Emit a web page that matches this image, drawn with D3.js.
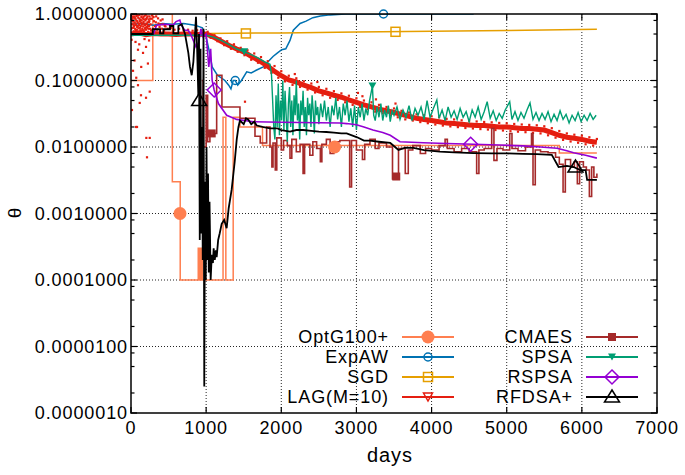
<!DOCTYPE html>
<html><head><meta charset="utf-8">
<script src="https://cdn.jsdelivr.net/npm/d3@7"></script>
<style>
body{margin:0;background:#fff}
svg{display:block}
text{font-family:"Liberation Sans",Arial,sans-serif;fill:#000}
</style>
</head><body>
<svg id="c" width="685" height="475"></svg>
<script>
// ---------- axes ----------
const xTicks = [0,1000,2000,3000,4000,5000,6000,7000];
const yTicks = [1e-6,1e-5,1e-4,1e-3,1e-2,1e-1,1];
const yTickLabels = ["0.0000010","0.0000100","0.0001000","0.0010000","0.0100000","0.1000000","1.0000000"];
const yMinorMult = [2,5,8];
const xLabel = "days";
const yLabel = "θ";

// ---------- series names / colours ----------
const seriesNames = ["OptG100+","ExpAW","SGD","LAG(M=10)","CMAES","SPSA","RSPSA","RFDSA+"];
const seriesColors = ["#ff7f50","#0072b2","#e69f00","#e51e10","#a52a2a","#009e73","#9400d3","#000000"];

// ---------- data: [day, theta] ----------
const optG = [[0,0.1],[290,1.0],[550,0.003],[655,0.0001],[895,0.0003],[910,0.0001],[918,0.0003],[930,0.0001],[940,0.0003],[948,0.0001],[1225,0.028],[1262,0.0001],[1360,0.028],[1450,0.02],[1750,0.0105],[5700,0.0081],[6200,0.0081]];
const optGMarks = [[652,0.001],[2710,0.01]];

const expAW = [[0,0.7],[150,0.72],[300,0.68],[420,0.72],[550,0.7],[700,0.72],[850,0.68],[950,0.62],[1000,0.45],[1050,0.25],[1080,0.16],[1150,0.12],[1250,0.1],[1300,0.085],[1330,0.075],[1360,0.1],[1387,0.1],[1420,0.085],[1470,0.1],[1540,0.135],[1600,0.13],[1673,0.144],[1760,0.16],[1820,0.19],[1890,0.23],[1950,0.26],[2005,0.29],[2060,0.3],[2116,0.4],[2160,0.57],[2250,0.72],[2330,0.78],[2420,0.88],[2520,0.93],[2650,0.97],[2850,1.0],[4560,1.0]];
const expAWMarks = [[1387,0.1],[3360,1.0]];

const sgd = [[0,0.5],[1000,0.51],[2000,0.52],[3000,0.535],[4000,0.55],[5000,0.565],[6200,0.59]];
const sgdMarks = [[1529,0.51],[3520,0.54]];

const lagBand = [[0,0.5],[100,0.52],[200,0.49],[300,0.51],[400,0.5],[500,0.5],[600,0.49],[700,0.5],[800,0.5],[900,0.49],[1000,0.5],[1100,0.45],[1200,0.39],[1300,0.34],[1400,0.3],[1500,0.27],[1600,0.23],[1700,0.2],[1800,0.17],[1900,0.14],[2000,0.118],[2100,0.102],[2200,0.095],[2300,0.085],[2400,0.078],[2500,0.07],[2600,0.065],[2700,0.06],[2800,0.056],[2900,0.051],[3000,0.047],[3100,0.043],[3200,0.04],[3300,0.037],[3400,0.035],[3500,0.033],[3600,0.031],[3700,0.029],[3800,0.027],[3900,0.026],[4000,0.025],[4100,0.024],[4200,0.023],[4300,0.0225],[4400,0.022],[4500,0.0215],[4600,0.021],[4700,0.021],[4800,0.0205],[4900,0.02],[5000,0.02],[5100,0.0195],[5200,0.019],[5300,0.019],[5400,0.0185],[5500,0.018],[5600,0.0165],[5700,0.015],[5800,0.014],[5900,0.0135],[6000,0.013],[6100,0.0122],[6200,0.0118]];
const lagFuzz = [[1020,0.54],[1060,0.44],[1110,0.48],[1150,0.39],[1190,0.43],[1240,0.34],[1280,0.39],[1330,0.3],[1370,0.35],[1420,0.27],[1460,0.31],[1510,0.24],[1550,0.285],[1600,0.205],[1640,0.255],[1690,0.185],[1730,0.225],[1780,0.155],[1820,0.195],[1870,0.13],[1910,0.165],[1960,0.11],[2000,0.138],[2050,0.097],[2100,0.118],[2150,0.086],[2200,0.108],[2250,0.08],[2300,0.097],[2350,0.073],[2400,0.09],[2450,0.066],[2500,0.08],[2550,0.06],[2600,0.075],[2650,0.055],[2700,0.069],[2750,0.051],[2800,0.064],[2850,0.047],[2900,0.059],[2950,0.043],[3000,0.054],[3050,0.04],[3100,0.05],[3150,0.037],[3200,0.047],[3250,0.034],[3300,0.043],[3350,0.032],[3400,0.04],[3450,0.03],[3500,0.038],[3550,0.028],[3600,0.035],[3650,0.026],[3700,0.033],[3750,0.025],[3800,0.031],[3850,0.0237],[3900,0.03],[3950,0.0228],[4000,0.029],[4050,0.0218],[4100,0.028],[4150,0.021],[4200,0.0265],[4250,0.0204],[4300,0.026],[4350,0.0199],[4400,0.0252],[4450,0.0193],[4500,0.0248],[4550,0.019],[4600,0.0242],[4650,0.0186],[4700,0.0238],[4750,0.0183],[4800,0.0235],[4850,0.018],[4900,0.023],[4950,0.0177],[5000,0.0227],[5050,0.0173],[5100,0.0222],[5150,0.017],[5200,0.0218],[5250,0.0167],[5300,0.0215],[5350,0.0163],[5400,0.0212],[5450,0.016],[5500,0.0205],[5550,0.015],[5600,0.0192],[5650,0.0138],[5700,0.0174],[5750,0.0128],[5800,0.016],[5850,0.0121],[5900,0.0153],[5950,0.0116],[6000,0.0148],[6050,0.011],[6100,0.014],[6150,0.0105],[6200,0.0132],
[3020,0.065],[3080,0.058],[3260,0.052],[3520,0.045],[2480,0.095],[2180,0.125]];
const lagDots = [[5,0.95],[12,0.8],[18,0.62],[25,0.9],[30,0.7],[36,0.55],[42,0.98],[48,0.75],[55,0.6],[60,0.85],[66,0.68],[72,0.93],[78,0.58],[84,0.78],[90,0.66],[96,0.88],[102,0.52],[108,0.72],[114,0.97],[120,0.62],[126,0.82],[132,0.56],[138,0.9],[144,0.7],[150,0.6],[156,0.86],[162,0.65],[168,0.76],[174,0.55],[180,0.94],[186,0.68],[192,0.8],[198,0.58],[204,0.72],[210,0.88],[216,0.62],[222,0.75],[228,0.54],[234,0.83],[240,0.66],[246,0.92],[252,0.6],
[10,0.7],[22,0.85],[34,0.62],[46,0.9],[58,0.72],[70,0.8],[82,0.64],[94,0.95],[106,0.68],[118,0.78],[130,0.66],[142,0.8],[154,0.72],[166,0.9],[178,0.7],[190,0.62],[202,0.84],[214,0.7],[226,0.66],[238,0.76],
[3,0.6],[15,0.99],[28,0.77],[40,0.66],[52,0.86],[64,0.57],[76,0.99],[88,0.74],[100,0.61],[112,0.85],[124,0.57],[136,0.74],[148,0.98],[160,0.57],[172,0.83],[184,0.6],[196,0.97],[208,0.64],[220,0.92],[232,0.6],[244,0.78],[256,0.85],[268,0.57],[280,0.95],
[260,0.7],[275,0.85],[290,0.6],[305,0.78],[320,0.66],[335,0.92],[350,0.58],[365,0.72],[380,0.64],[395,0.8],[410,0.6],[425,0.7],[440,0.56],[460,0.65],[490,0.6],[530,0.62],[580,0.58],[640,0.6],[700,0.57],[760,0.58],[820,0.56],[880,0.57],[940,0.56],
[300,0.9],[330,0.75],[360,0.86],[390,0.7],[420,0.83],[450,0.66],
[8,0.41],[93,0.29],[47,0.2],[160,0.26],[200,0.32],[27,0.14],[136,0.16],[225,0.18],[70,0.11],[93,0.085],[133,0.06],[116,0.046],[200,0.055],[249,0.068],[13,0.036],[67,0.02],[80,0.02],[204,0.0137],[249,0.0137],[213,0.007],[60,0.38],[180,0.42],[110,0.35],[240,0.4],[1517,0.048]];

const cmaes = [[940,0.1],[960,0.01],[1000,0.06],[1020,0.012],[1050,0.016],[1140,0.12],[1210,0.04],[1450,0.027],[1650,0.0145],[1720,0.0115],[1805,0.02],[1850,0.01],[1875,0.005],[1890,0.0115],[1920,0.0045],[1940,0.0137],[2000,0.009],[2030,0.0125],[2080,0.0105],[2116,0.0068],[2140,0.013],[2200,0.0085],[2250,0.011],[2290,0.004],[2310,0.011],[2380,0.0075],[2420,0.012],[2470,0.0095],[2520,0.006],[2540,0.011],[2600,0.013],[2650,0.008],[2700,0.012],[2780,0.0125],[2910,0.0025],[2935,0.0125],[3000,0.009],[3080,0.0065],[3110,0.011],[3180,0.013],[3250,0.0095],[3300,0.0115],[3400,0.01],[3480,0.0033],[3560,0.0095],[3650,0.004],[3690,0.009],[3750,0.0105],[3850,0.008],[3920,0.0095],[4000,0.009],[4100,0.0105],[4180,0.013],[4210,0.0095],[4300,0.0085],[4400,0.0095],[4500,0.0085],[4600,0.004],[4630,0.009],[4700,0.0095],[4800,0.019],[4830,0.0063],[4870,0.0095],[4950,0.009],[5040,0.016],[5070,0.0095],[5150,0.0088],[5250,0.01],[5330,0.016],[5350,0.0027],[5380,0.009],[5450,0.0085],[5550,0.0082],[5650,0.007],[5700,0.0055],[5750,0.0021],[5780,0.0065],[5850,0.005],[5900,0.006],[5940,0.0028],[5970,0.006],[6020,0.005],[6060,0.0045],[6100,0.0018],[6130,0.005],[6160,0.0035],[6200,0.004]];
const cmaesMarks = [[1074,0.016],[3530,0.0036]];

const spsa = [[0,0.48],[500,0.48],[1000,0.48],[1100,0.45],[1200,0.4],[1300,0.35],[1400,0.3],[1507,0.27],[1600,0.245],[1700,0.215],[1780,0.19],[1850,0.175],[1870,0.12],
[1885,0.05],[1900,0.02],[1915,0.013],[1930,0.06],[1945,0.02],[1960,0.09],[1975,0.015],[1990,0.05],[2005,0.025],[2020,0.1],[2035,0.018],[2050,0.07],[2065,0.03],[2080,0.012],[2095,0.045],[2110,0.08],[2125,0.02],[2140,0.05],[2155,0.015],[2170,0.06],[2185,0.03],[2200,0.1],[2215,0.025],[2230,0.045],[2245,0.013],[2260,0.05],[2275,0.03],[2290,0.07],[2305,0.02],[2320,0.04],[2335,0.015],[2350,0.055],[2365,0.03],[2380,0.045],[2395,0.02],[2410,0.06],[2425,0.035],[2440,0.016],[2455,0.05],[2470,0.03],[2485,0.04],[2500,0.022],
[2525,0.045],[2550,0.028],[2575,0.05],[2600,0.025],[2625,0.04],[2650,0.02],[2675,0.042],[2700,0.03],[2725,0.055],[2750,0.026],[2775,0.04],[2800,0.02],[2825,0.045],[2850,0.03],[2875,0.05],[2900,0.024],[2925,0.038],[2950,0.02],[2975,0.042],[3000,0.018],[3025,0.04],[3050,0.028],[3075,0.045],[3100,0.025],[3125,0.038],[3150,0.03],[3175,0.05],[3200,0.07],[3213,0.083],[3230,0.03],[3250,0.025],[3275,0.04],[3300,0.028],[3325,0.045],[3350,0.025],[3375,0.036],[3400,0.028],[3425,0.042],[3450,0.024],[3475,0.035],[3500,0.03],
[3540,0.04],[3580,0.026],[3620,0.036],[3660,0.028],[3700,0.042],[3740,0.025],[3780,0.038],[3820,0.03],[3860,0.04],[3900,0.026],[3940,0.05],[3980,0.028],[4020,0.037],[4070,0.051],[4100,0.027],[4140,0.036],[4180,0.025],[4220,0.04],[4260,0.028],[4300,0.035],[4340,0.026],[4380,0.038],[4420,0.028],[4460,0.034],[4500,0.024],[4540,0.036],[4580,0.028],[4620,0.04],[4660,0.026],[4700,0.034],[4740,0.048],[4780,0.027],[4820,0.035],[4860,0.025],[4900,0.032],[4940,0.027],[4980,0.036],[5040,0.048],[5070,0.026],[5110,0.034],[5150,0.025],[5190,0.033],[5230,0.027],[5270,0.036],[5310,0.046],[5350,0.026],[5390,0.033],[5430,0.025],[5470,0.032],[5510,0.026],[5550,0.034],[5590,0.024],[5630,0.031],[5670,0.025],[5710,0.035],[5750,0.026],[5790,0.031],[5830,0.023],[5870,0.03],[5910,0.025],[5950,0.033],[5990,0.024],[6030,0.03],[6070,0.025],[6110,0.032],[6150,0.026],[6190,0.03]];
const spsaMarks = [[1507,0.27],[3213,0.083]];

const rspsa = [[0,0.5],[300,0.5],[340,0.68],[450,0.7],[560,0.68],[600,0.77],[650,0.81],[670,0.68],[715,0.57],[760,0.57],[800,0.48],[865,0.32],[900,0.37],[930,0.6],[960,0.45],[1000,0.5],[1035,0.16],[1060,0.3],[1080,0.1],[1107,0.072],[1163,0.045],[1273,0.03],[1407,0.026],[1630,0.024],[2000,0.0235],[2500,0.0232],[2780,0.023],[2870,0.0225],[3000,0.0216],[3100,0.02],[3220,0.018],[3350,0.0165],[3450,0.015],[3580,0.012],[3890,0.0116],[4200,0.0113],[4560,0.011],[4900,0.0107],[5220,0.0104],[5450,0.01],[5670,0.0096],[5800,0.0088],[5890,0.0082],[6050,0.0075],[6200,0.0068]];
const rspsaMarks = [[1107,0.072],[4520,0.011]];

const rfdsa = [[0,0.5],[290,0.5],[290,0.59],[387,0.59],[387,0.51],[431,0.51],[431,0.59],[519,0.59],[519,0.66],[564,0.66],[564,0.51],[630,0.51],[630,0.66],[675,0.7],[719,0.5],[763,0.26],[785,0.16],[808,0.12],[830,0.19],[865,0.91],[880,0.3],[896,0.06],[905,0.5],[915,0.0004],[925,0.3],[935,0.0005],[945,0.02],[955,0.0002],[965,0.6],[975,0.0000025],[985,0.003],[995,0.0001],[1005,0.01],[1015,0.0002],[1025,0.004],[1035,0.00013],[1045,0.0015],[1060,0.0001],[1075,0.00024],[1090,0.00018],[1100,0.0003],[1115,0.0002],[1130,0.00028],[1140,0.00022],[1160,0.0004],[1180,0.0005],[1207,0.0007],[1240,0.0008],[1273,0.0006],[1300,0.0012],[1340,0.0023],[1380,0.006],[1407,0.013],[1430,0.02],[1450,0.025],[1500,0.022],[1530,0.027],[1560,0.026],[1600,0.022],[1640,0.024],[1673,0.021],[1750,0.02],[1850,0.019],[1950,0.019],[2000,0.018],[2116,0.017],[2200,0.018],[2290,0.018],[2400,0.0175],[2500,0.017],[2600,0.0168],[2700,0.0165],[2800,0.016],[2870,0.016],[3010,0.014],[3100,0.0125],[3180,0.0125],[3300,0.012],[3450,0.0115],[3560,0.009],[3650,0.0098],[3760,0.0097],[3900,0.009],[4110,0.0085],[4300,0.0083],[4560,0.0081],[4800,0.008],[5000,0.008],[5220,0.0079],[5400,0.0078],[5600,0.0076],[5690,0.005],[5800,0.0052],[5890,0.005],[5980,0.0045],[6050,0.0045],[6070,0.0032],[6200,0.0032]];
const rfdsaMarks = [[907,0.05],[5915,0.005]];

// ---------- drawing ----------
const svg = d3.select("#c");
const L = 131, R = 657, T = 14, B = 413;
const x = d3.scaleLinear().domain([0,7000]).range([L,R]);
const y = d3.scaleLog().domain([1e-6,1]).range([B,T]);

svg.append("defs").append("clipPath").attr("id","clip")
  .append("rect").attr("x",L).attr("y",T).attr("width",R-L).attr("height",B-T);

// grid
const grid = svg.append("g");
xTicks.slice(1,-1).forEach(t=>grid.append("line").attr("x1",x(t)).attr("x2",x(t)).attr("y1",T).attr("y2",B)
  .attr("stroke","#000").attr("stroke-width",1).attr("stroke-dasharray","1,2").attr("opacity",0.85));
yTicks.slice(1,-1).forEach(t=>grid.append("line").attr("x1",L).attr("x2",R).attr("y1",y(t)).attr("y2",y(t))
  .attr("stroke","#000").attr("stroke-width",1).attr("stroke-dasharray","1,2").attr("opacity",0.85));

const plot = svg.append("g").attr("clip-path","url(#clip)");
const line = d3.line().x(d=>x(d[0])).y(d=>y(d[1]));
const stepLine = d3.line().x(d=>x(d[0])).y(d=>y(d[1])).curve(d3.curveStepAfter);

function symbol(g, type, cx, cy, color){
  const sw = 1.5;
  if(type==="fcircle") g.append("circle").attr("cx",cx).attr("cy",cy).attr("r",6.5).attr("fill",color);
  else if(type==="ocircle") g.append("circle").attr("cx",cx).attr("cy",cy).attr("r",4).attr("fill","none").attr("stroke",color).attr("stroke-width",sw);
  else if(type==="osquare") g.append("rect").attr("x",cx-4.5).attr("y",cy-4.5).attr("width",9).attr("height",9).attr("fill","none").attr("stroke",color).attr("stroke-width",sw);
  else if(type==="fsquare") g.append("rect").attr("x",cx-4).attr("y",cy-4).attr("width",8).attr("height",8).attr("fill",color);
  else if(type==="otridown") g.append("path").attr("d",`M${cx-4.5},${cy-4}L${cx+4.5},${cy-4}L${cx},${cy+4}Z`).attr("fill","none").attr("stroke",color).attr("stroke-width",sw);
  else if(type==="ftridown") g.append("path").attr("d",`M${cx-4},${cy-3.5}L${cx+4},${cy-3.5}L${cx},${cy+3.5}Z`).attr("fill",color);
  else if(type==="odiamond") g.append("path").attr("d",`M${cx},${cy-7}L${cx+7},${cy}L${cx},${cy+7}L${cx-7},${cy}Z`).attr("fill","none").attr("stroke",color).attr("stroke-width",sw);
  else if(type==="otriup") g.append("path").attr("d",`M${cx},${cy-7}L${cx+7.5},${cy+5}L${cx-7.5},${cy+5}Z`).attr("fill","none").attr("stroke",color).attr("stroke-width",sw);
}
const symTypes = ["fcircle","ocircle","osquare","otridown","fsquare","ftridown","odiamond","otriup"];

// OptG100+
plot.append("path").datum(optG).attr("d",stepLine).attr("fill","none").attr("stroke",seriesColors[0]).attr("stroke-width",1.5);
// ExpAW
plot.append("path").datum(expAW).attr("d",line).attr("fill","none").attr("stroke",seriesColors[1]).attr("stroke-width",1.5);
// SGD
plot.append("path").datum(sgd).attr("d",line).attr("fill","none").attr("stroke",seriesColors[2]).attr("stroke-width",1.5);
// LAG
plot.append("path").datum(lagBand).attr("d",line).attr("fill","none").attr("stroke",seriesColors[3]).attr("stroke-width",5);
lagFuzz.concat(lagDots).forEach(d=>plot.append("rect").attr("x",x(d[0])-1.1).attr("y",y(d[1])-1.1).attr("width",2.2).attr("height",2.2).attr("fill",seriesColors[3]));
// CMAES
plot.append("path").datum(cmaes).attr("d",stepLine).attr("fill","none").attr("stroke",seriesColors[4]).attr("stroke-width",1.6);
// SPSA
plot.append("path").datum(spsa).attr("d",line).attr("fill","none").attr("stroke",seriesColors[5]).attr("stroke-width",1.4);
// RSPSA
plot.append("path").datum(rspsa).attr("d",line).attr("fill","none").attr("stroke",seriesColors[6]).attr("stroke-width",1.6);
// RFDSA+
plot.append("path").datum(rfdsa).attr("d",line).attr("fill","none").attr("stroke",seriesColors[7]).attr("stroke-width",1.8);

const marks = [optGMarks,expAWMarks,sgdMarks,null,cmaesMarks,spsaMarks,rspsaMarks,rfdsaMarks];
const mg = svg.append("g");
marks.forEach((m,i)=>{ if(m) m.forEach(d=>symbol(mg,symTypes[i],x(d[0]),y(d[1]),seriesColors[i])); });

// border
svg.append("rect").attr("x",L).attr("y",T).attr("width",R-L).attr("height",B-T).attr("fill","none").attr("stroke","#000").attr("stroke-width",1.5);

// ticks
const tk = svg.append("g").attr("stroke","#000").attr("stroke-width",1.2);
xTicks.forEach(t=>{
  tk.append("line").attr("x1",x(t)).attr("x2",x(t)).attr("y1",B).attr("y2",B-6);
  tk.append("line").attr("x1",x(t)).attr("x2",x(t)).attr("y1",T).attr("y2",T+6);
});
yTicks.forEach(t=>{
  tk.append("line").attr("x1",L).attr("x2",L+6).attr("y1",y(t)).attr("y2",y(t));
  tk.append("line").attr("x1",R).attr("x2",R-6).attr("y1",y(t)).attr("y2",y(t));
});
yTicks.slice(0,-1).forEach(t=>yMinorMult.forEach(m=>{
  const v=t*m;
  tk.append("line").attr("x1",L).attr("x2",L+3.5).attr("y1",y(v)).attr("y2",y(v));
  tk.append("line").attr("x1",R).attr("x2",R-3.5).attr("y1",y(v)).attr("y2",y(v));
}));

// tick labels
const lab = svg.append("g").style("font-size","18px").style("letter-spacing","0.9px");
xTicks.forEach(t=>lab.append("text").attr("x",x(t)).attr("y",434).attr("text-anchor","middle").text(t));
yTicks.forEach((t,i)=>lab.append("text").attr("x",128).attr("y",y(t)).attr("dy","0.36em").attr("text-anchor","end").text(yTickLabels[i]));

// axis titles
svg.append("text").attr("x",390).attr("y",462).attr("text-anchor","middle").style("font-size","20px").style("letter-spacing","1px").text(xLabel);
svg.append("text").attr("transform","translate(14,213) rotate(-90)").attr("text-anchor","middle").attr("dy","0.36em").style("font-size","19px").text(yLabel);

// legend
const lg = svg.append("g").style("font-size","18px").style("letter-spacing","0.9px");
seriesNames.forEach((n,i)=>{
  const col = Math.floor(i/4), row = i%4;
  const ty = 337 + row*20;
  const tx = col===0 ? 389 : 573;
  const lx1 = col===0 ? 402 : 586, lx2 = col===0 ? 454 : 638;
  lg.append("text").attr("x",tx).attr("y",ty).attr("dy","0.36em").attr("text-anchor","end").text(n);
  lg.append("line").attr("x1",lx1).attr("x2",lx2).attr("y1",ty).attr("y2",ty).attr("stroke",seriesColors[i]).attr("stroke-width",2);
  symbol(lg, symTypes[i], (lx1+lx2)/2, ty, seriesColors[i]);
});
</script>
</body></html>
